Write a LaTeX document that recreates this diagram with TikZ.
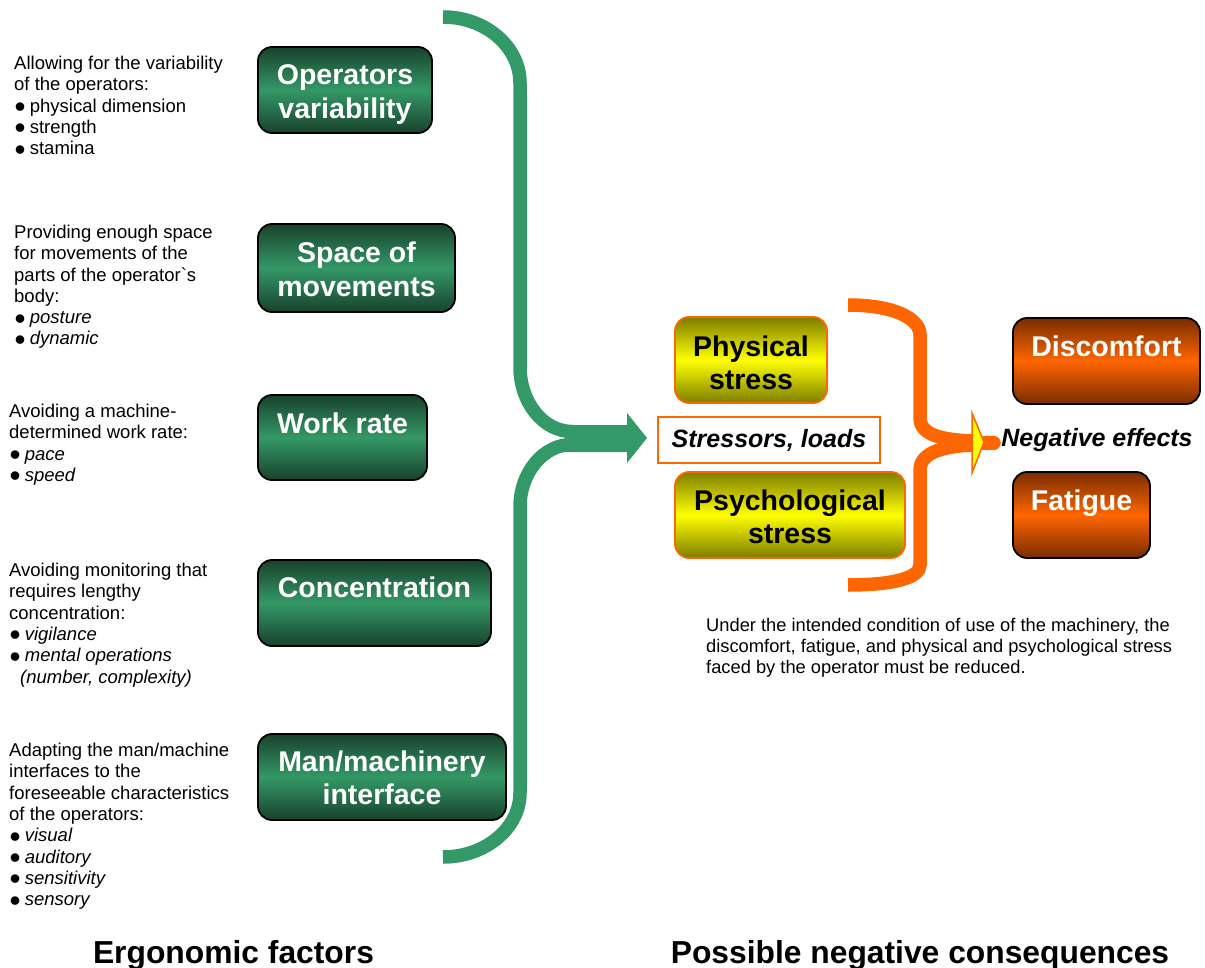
\documentclass[tikz,border=0pt]{standalone}
\usepackage{fontspec}
\usepackage{graphicx}
\setmainfont{Liberation Sans}[Ligatures=TeXOff]
\definecolor{gline}{RGB}{52,153,104}
\definecolor{gdark}{RGB}{24,66,44}
\definecolor{gmid}{RGB}{52,152,102}
\definecolor{odark}{RGB}{120,44,0}
\definecolor{omid}{RGB}{255,102,0}
\definecolor{ydark}{RGB}{125,125,0}
\definecolor{ymid}{RGB}{255,255,0}
\newcommand{\lft}[1]{\begin{tabular}[t]{@{}l@{}}#1\end{tabular}}
\newcommand{\ctr}[1]{\begin{tabular}[t]{@{}c@{}}#1\end{tabular}}
\newcommand{\smallfnt}{\fontsize{18.5}{21.3}\selectfont}
\newcommand{\boxfnt}{\fontsize{28.5}{33.5}\selectfont\bfseries}
\newcommand{\bul}{\hspace*{0.5pt}\smash{\raisebox{-5.5pt}{\scalebox{1.7}{\textbullet}}}\hspace*{-1pt}\ }
\begin{document}
\begin{tikzpicture}[x=1pt,y=-1pt,
  gbox/.style={draw=black, line width=1.8pt, rounded corners=14pt,
    top color=gdark, bottom color=gdark, middle color=gmid, inner sep=0pt, outer sep=0pt},
  ybox/.style={draw=omid, line width=1.8pt, rounded corners=14pt,
    top color=ydark, bottom color=ydark, middle color=ymid, inner sep=0pt, outer sep=0pt},
  obox/.style={draw=black, line width=1.8pt, rounded corners=14pt,
    top color=odark, bottom color=odark, middle color=omid, inner sep=0pt, outer sep=0pt},
  wtxt/.style={anchor=base, inner sep=0pt, text=white, font=\boxfnt},
  btxt/.style={anchor=base, inner sep=0pt, text=black, font=\boxfnt},
  desc/.style={anchor=base west, inner sep=0pt, font=\smallfnt},
  gstroke/.style={draw=gline, line width=13.5pt},
  ostroke/.style={draw=omid, line width=13.5pt},
]
\useasboundingbox (0,0) rectangle (1205,968);
\fill[white] (0,0) rectangle (1205,968);

% green bracket
\draw[gstroke] (443,17) .. controls (485.5,17) and (520,46.6) .. (520,83)
  -- (520,367) .. controls (520,402) and (543,431.5) .. (572,431.5);
\draw[gstroke] (572,444.5) .. controls (543,444.5) and (520,473) .. (520,507)
  -- (520,793) .. controls (520,828) and (485.5,857) .. (443,857);
\fill[gline] (565,425) -- (627,425) -- (627,413) -- (647,438) -- (627,463)
  -- (627,452) -- (565,452) -- cycle;

% orange bracket
\draw[ostroke] (848,305) .. controls (893,305) and (920,318) .. (920,335)
  -- (920,418) .. controls (920,436) and (945,440) .. (973,441);
\draw[ostroke] (973,445) .. controls (945,446) and (920,452) .. (920,470)
  -- (920,565) .. controls (920,578) and (893,585) .. (848,585);
\draw[ostroke, line cap=round] (970,443) -- (994,443);
\draw[draw=omid, fill=ymid, line width=1.5pt, line join=miter]
  (972,413) -- (984,442) -- (972,473) -- cycle;

% green boxes
\node[gbox, minimum width=174, minimum height=86] (op) at (345,90) {};
\node[wtxt] (opt) at (345,85) {\ctr{Operators\\variability}};
\node[gbox, minimum width=197, minimum height=88] (sp) at (356.5,268) {};
\node[wtxt] (spt) at (356.5,263) {\ctr{Space of\\movements}};
\node[gbox, minimum width=169, minimum height=85] (wr) at (342.5,437.5) {};
\node[wtxt] (wrt) at (342.5,433) {Work rate};
\node[gbox, minimum width=233, minimum height=86] (co) at (374.5,603) {};
\node[wtxt] (cot) at (374.5,597) {Concentration};
\node[gbox, minimum width=248, minimum height=86] (mm) at (382,777) {};
\node[wtxt] (mmt) at (382,771) {\ctr{Man/machinery\\interface}};

% yellow boxes
\node[ybox, minimum width=152, minimum height=86] (ps) at (751,360) {};
\node[btxt] (pst) at (751,356) {\ctr{Physical\\stress}};
\node[ybox, minimum width=230, minimum height=86] (psy) at (790,515) {};
\node[btxt] (psyt) at (790,510) {\ctr{Psychological\\stress}};
\node[draw=omid, line width=1.5pt, fill=white, minimum width=222, minimum height=46,
  inner sep=0pt, font=\fontsize{25}{30}\selectfont\bfseries\itshape] (sl) at (769,440) {Stressors, loads};

% orange boxes
\node[obox, minimum width=187, minimum height=86] (dc) at (1106.5,361) {};
\node[wtxt] (dct) at (1106.5,356) {Discomfort};
\node[obox, minimum width=137, minimum height=86] (fa) at (1081.5,515) {};
\node[wtxt] (fat) at (1081.5,510) {Fatigue};
\node[anchor=base, inner sep=0pt, font=\fontsize{25}{30}\selectfont\bfseries\itshape] (ne) at (1097,446) {Negative effects};

% descriptions
\node[desc] (d1) at (14,69.5) {\lft{Allowing for the variability\\of the operators:\\\bul physical dimension\\\bul strength\\\bul stamina}};
\node[desc] (d2) at (14,238.5) {\lft{Providing enough space\\for movements of the\\parts of the operator`s\\body:\\\bul \textit{posture}\\\bul \textit{dynamic}}};
\node[desc] (d3) at (9,417.5) {\lft{Avoiding a machine-\\determined work rate:\\\bul \textit{pace}\\\bul \textit{speed}}};
\node[desc] (d4) at (9,576.5) {\lft{Avoiding monitoring that\\requires lengthy\\concentration:\\\bul \textit{vigilance}\\\bul \textit{mental operations}\\\hspace*{11pt}\textit{(number, complexity)}}};
\node[desc] (d5) at (9,756.5) {\lft{Adapting the man/machine\\interfaces to the\\foreseeable characteristics\\of the operators:\\\bul \textit{visual}\\\bul \textit{auditory}\\\bul \textit{sensitivity}\\\bul \textit{sensory}}};

\node[anchor=base west, inner sep=0pt, font=\fontsize{18.3}{21}\selectfont] (note) at (706,631.5)
  {\lft{Under the intended condition of use of the machinery, the\\discomfort, fatigue, and physical and psychological stress\\faced by the operator must be reduced.}};

% titles
\node[anchor=base, inner sep=0pt, font=\fontsize{31.8}{36}\selectfont\bfseries] (t1) at (233.5,963) {Ergonomic factors};
\node[anchor=base, inner sep=0pt, font=\fontsize{31.8}{36}\selectfont\bfseries] (t2) at (920,963) {Possible negative consequences};
\end{tikzpicture}
\end{document}
